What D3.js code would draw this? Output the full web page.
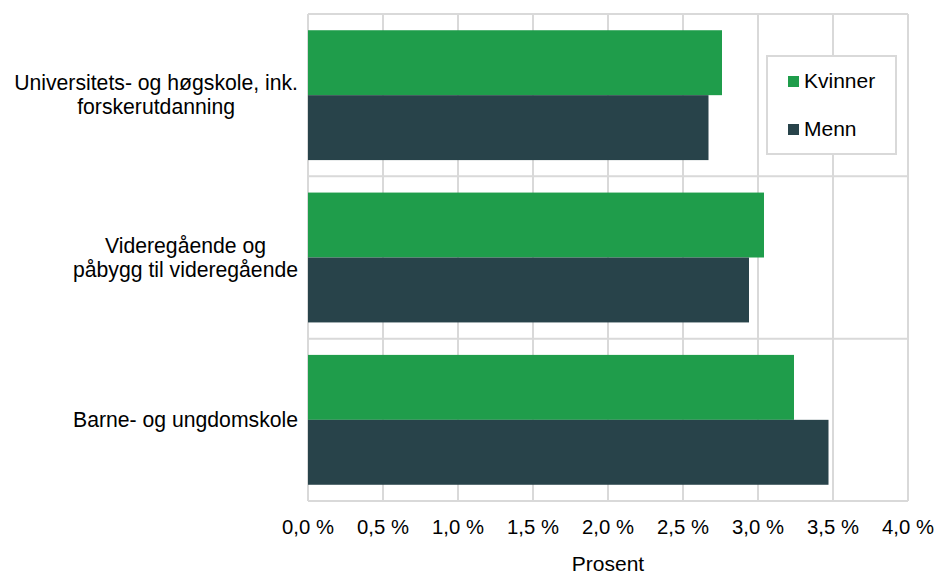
<!DOCTYPE html>
<html>
<head>
<meta charset="utf-8">
<script src="https://cdn.jsdelivr.net/npm/d3@7"></script>
<style>
  body { margin: 0; background: #fff; }
  text { font-family: "Liberation Sans", Arial, sans-serif; fill: #000; }
</style>
</head>
<body>
<div id="chart"></div>
<script>
// categories, top to bottom
const categories = [
    ["Universitets- og høgskole, ink.", "forskerutdanning"],
    ["Videregående og", "påbygg til videregående"],
    ["Barne- og ungdomskole"]
];
const seriesNames = ["Kvinner", "Menn"];
const kvinner = [2.76, 3.04, 3.24];
const menn = [2.67, 2.94, 3.47];
const xTicks = [0, 0.5, 1, 1.5, 2, 2.5, 3, 3.5, 4];
const colors = ["#1f9d4b", "#28434a"];

const width = 938, height = 576;
const plotLeft = 308, plotRight = 908, plotTop = 14, plotBottom = 501;

const svg = d3.select("#chart").append("svg")
    .attr("width", width)
    .attr("height", height);

const x = d3.scaleLinear().domain([0, 4]).range([plotLeft, plotRight]);
const y = d3.scaleBand().domain(d3.range(categories.length)).range([plotTop, plotBottom]);
const inner = d3.scaleBand().domain([0, 1]).range([0, y.bandwidth()]).paddingOuter(0.25);

// grid
const grid = svg.append("g").attr("stroke", "#d9d9d9").attr("stroke-width", 2);
grid.selectAll("line.v").data(xTicks).enter().append("line")
    .attr("x1", d => x(d)).attr("x2", d => x(d))
    .attr("y1", plotTop).attr("y2", plotBottom);
grid.selectAll("line.h").data(d3.range(categories.length + 1)).enter().append("line")
    .attr("x1", plotLeft).attr("x2", plotRight)
    .attr("y1", d => plotTop + d * y.step()).attr("y2", d => plotTop + d * y.step());

// bars
const series = [kvinner, menn];
series.forEach((vals, s) => {
    svg.append("g").selectAll("rect").data(vals).enter().append("rect")
        .attr("x", x(0))
        .attr("y", (d, i) => y(i) + inner(s))
        .attr("width", d => x(d) - x(0))
        .attr("height", inner.bandwidth())
        .attr("fill", colors[s]);
});

// x axis labels
svg.append("g").selectAll("text").data(xTicks).enter().append("text")
    .attr("x", d => x(d))
    .attr("y", 534)
    .attr("text-anchor", "middle")
    .attr("font-size", 20.3)
    .text(d => d3.format(".1f")(d).replace(".", ",") + " %");

svg.append("text")
    .attr("x", x(2)).attr("y", 571)
    .attr("text-anchor", "middle")
    .attr("font-size", 21)
    .text("Prosent");

// category labels: block right aligned, lines centered
categories.forEach((lines, i) => {
    const g = svg.append("g");
    const cy = y(i) + y.bandwidth() / 2;
    const lh = 24;
    const t = g.selectAll("text").data(lines).enter().append("text")
        .attr("y", (d, j) => cy + (j - (lines.length - 1) / 2) * lh + 7)
        .attr("text-anchor", "middle")
        .attr("font-size", 21.2)
        .text(d => d);
    let maxw = 0;
    t.each(function() { maxw = Math.max(maxw, this.getComputedTextLength()); });
    t.attr("x", 298 - maxw / 2);
});

// legend
const lg = svg.append("g");
lg.append("rect")
    .attr("x", 767).attr("y", 56).attr("width", 129).attr("height", 98)
    .attr("fill", "#fff").attr("stroke", "#d9d9d9").attr("stroke-width", 2);
seriesNames.forEach((name, s) => {
    const yy = 81 + s * 48;
    lg.append("rect")
        .attr("x", 788).attr("y", yy - 5).attr("width", 11).attr("height", 11)
        .attr("fill", colors[s]);
    lg.append("text")
        .attr("x", 804).attr("y", yy + 7)
        .attr("font-size", 21)
        .text(name);
});
</script>
</body>
</html>
